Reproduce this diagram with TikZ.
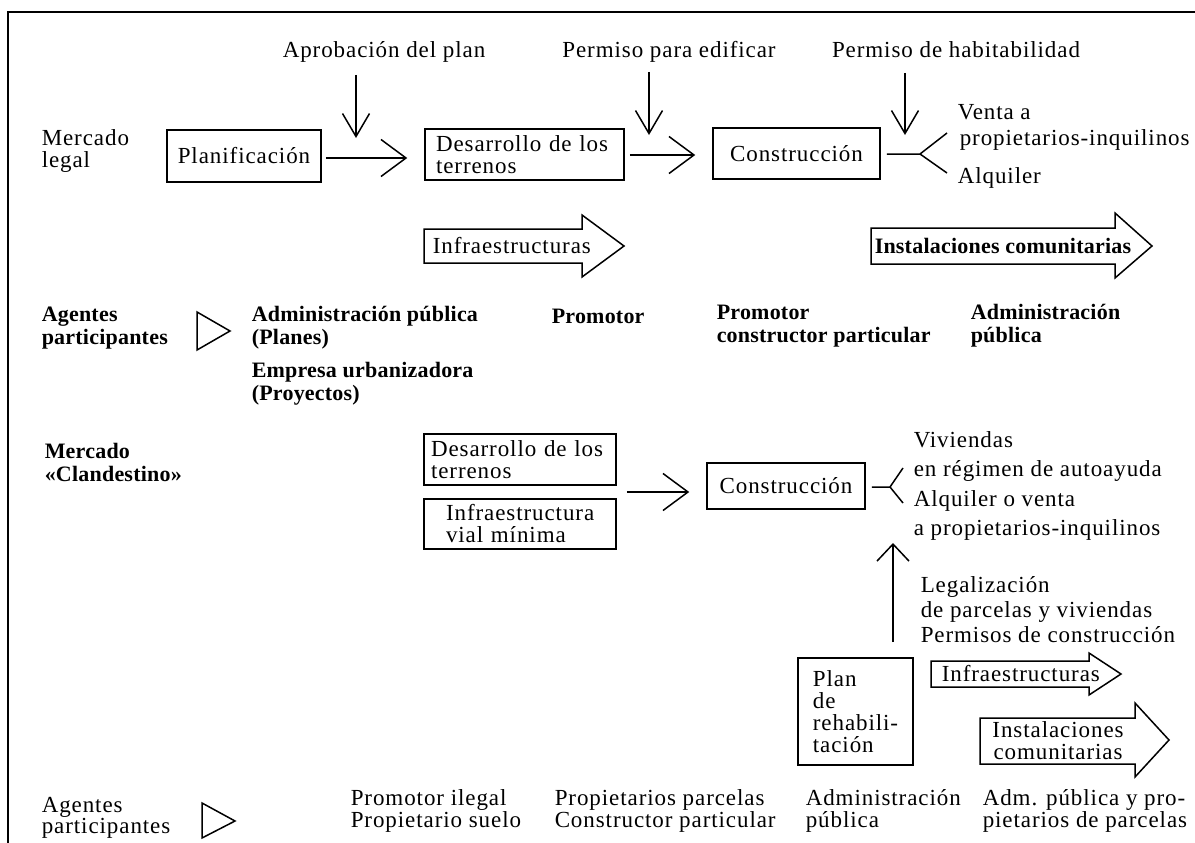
\documentclass[tikz,border=0pt]{standalone}
\usepackage{fontspec}
\setmainfont{Liberation Serif}[LetterSpace=4,BoldFeatures={LetterSpace=1}]
\usetikzlibrary{arrows.meta,calc}

\begin{document}
\begin{tikzpicture}[x=1pt,y=-1pt,line width=1.5pt,
  every node/.style={inner sep=0pt,font=\fontsize{23}{22}\selectfont},
  lbl/.style={anchor=west,align=left},
  box/.style={draw,inner sep=0pt},
  harr/.style={-{Straight Barb[length=25pt,width=37pt]}},
  darr/.style={-{Straight Barb[length=23pt,width=27pt]}},
  uarr/.style={-{Straight Barb[length=17pt,width=32pt]}}]
\useasboundingbox (0,0) rectangle (1195,843);
% marco
\draw[line width=2.5pt] (1195,12) -- (8,12) -- (8,843);

% mercado legal
\node (apr) at (384,52) {Aprobación del plan};
\node (edif) at (669,52) {Permiso para edificar};
\node (hab) at (956,50) {Permiso de habitabilidad};
\node[lbl] (mlegal) at (41,151) {Mercado\\legal};
\node[box,minimum width=154pt,minimum height=52pt] (plan) at (244,156) {Planificación};
\node[box,minimum width=199pt,minimum height=51pt,align=left,text width=177pt] (des) at (524.5,154.5) {Desarrollo de los\\terrenos};
\node[box,minimum width=167pt,minimum height=51pt] (cons) at (796.5,153.5) {Construcción};
\draw[harr,shorten <=4pt,shorten >=17pt] (plan.east |- 0,158) -- (des.west |- 0,158);
\draw[harr,shorten <=5pt,shorten >=17pt] (des.east |- 0,155) -- (cons.west |- 0,155);
\draw[darr] (356,75) coordinate (d1) -- (356,138);
\draw[darr] (649,72) coordinate (d2) -- (649,135);
\draw[darr] (905,73) coordinate (d3) -- (905,135);
\coordinate (f1) at (920,154);
\draw (cons.east |- f1) ++(6,0) -- (f1) -- (947,133);
\draw (f1) -- (947,173);
\node[lbl] (venta) at (957,112) {Venta a};
\node[lbl] (propinq) at (959,140) {propietarios-inquilinos};
\node[lbl] (alq) at (957,178) {Alquiler};

% flechas gruesas
\draw (424,229) -- (582,229) -- (582,215) -- (624,246) -- (582,277) -- (582,263) -- (424,263) -- cycle;
\node[lbl] (infra) at (432,246) {Infraestructuras};
\draw (871,228) -- (1115,228) -- (1115,213) -- (1152,246) -- (1115,278) -- (1115,264) -- (871,264) -- cycle;
\node[lbl,font=\fontsize{22}{22}\selectfont\bfseries] (inst) at (874,246) {Instalaciones comunitarias};

% agentes
\begin{scope}[every node/.style={inner sep=0pt,font=\fontsize{22}{23}\selectfont\bfseries}]
\node[lbl] (ag) at (41,328) {Agentes\\participantes};
\node[lbl] (adm) at (251,328) {Administración pública\\(Planes)};
\node[lbl] (emp) at (251,384) {Empresa urbanizadora\\(Proyectos)};
\node[lbl] (prom) at (551,316) {Promotor};
\node[lbl] (promc) at (716,326) {Promotor\\constructor particular};
\node[lbl] (adm2) at (970,326) {Administración\\pública};
\node[lbl] (mclan) at (44,462) {Mercado\\«Clandestino»};
\end{scope}
\draw (197,312) -- (230,331) -- (197,350) -- cycle;

% mercado clandestino
\node[box,minimum width=192pt,minimum height=51pt,align=left,text width=178pt] (des2) at (520,459.5) {Desarrollo de los\\terrenos};
\node[box,minimum width=192pt,minimum height=50pt,align=left,text width=148pt] (vial) at (520,524) {Infraestructura\\vial mínima};
\node[box,minimum width=158pt,minimum height=46pt] (cons2) at (786,486) {Construcción};
\coordinate (m) at ($(des2.south east)!0.5!(vial.north east)$);
\draw[harr,shorten <=10pt,shorten >=17pt] (m) -- (m -| cons2.west);
\coordinate (f2) at (890,487);
\draw (cons2.east |- f2) ++(6,0) -- (f2) -- (903,468);
\draw (f2) -- (903,503);
\node[lbl,font=\fontsize{23}{29.5}\selectfont] (viv) at (913,486) {Viviendas\\en régimen de autoayuda\\Alquiler o venta\\a propietarios-inquilinos};
\coordinate (legS) at (893,642);
\coordinate (legT) at (893,543);
\draw[uarr] (legS) -- (legT);
\node[lbl,font=\fontsize{23}{25}\selectfont] (leg) at (920,610) {Legalización\\de parcelas y viviendas\\Permisos de construcción};
\node[box,minimum width=115pt,minimum height=107pt,align=left] (rehab) at (855.5,711.5) {Plan\\de\\rehabili-\\tación};
\draw (931,661) -- (1089,661) -- (1089,653) -- (1121,674) -- (1089,695) -- (1089,687) -- (931,687) -- cycle;
\node[lbl] (infra2) at (941,674) {Infraestructuras};
\draw (980,718) -- (1135,718) -- (1135,703) -- (1169,740) -- (1135,777) -- (1135,764) -- (980,764) -- cycle;
\node[align=center,font=\fontsize{23}{22}\selectfont] (inst2) at (1058,741) {Instalaciones\\comunitarias};

% agentes (clandestino)
\node[lbl,font=\fontsize{23}{21}\selectfont] (ag2) at (41,818) {Agentes\\participantes};
\draw (202,803) -- (235,821) -- (202,838) -- cycle;
\node[lbl] (pil) at (350,811) {Promotor ilegal\\Propietario suelo};
\node[lbl] (ppar) at (554,811) {Propietarios parcelas\\Constructor particular};
\node[lbl] (adm3) at (805,811) {Administración\\pública};
\node[lbl] (adm4) at (982,811) {Adm. pública y pro-\\pietarios de parcelas};
\end{tikzpicture}
\end{document}
